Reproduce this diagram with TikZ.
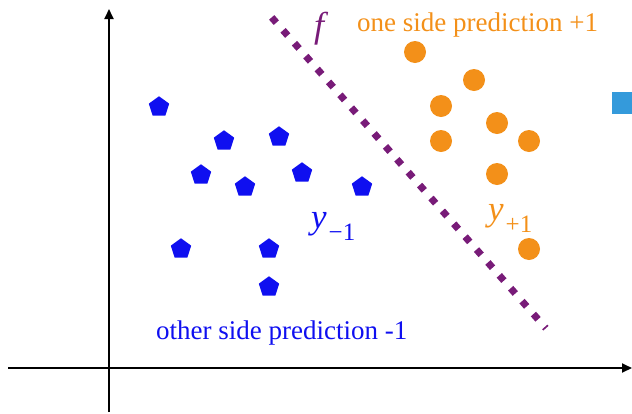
\documentclass[tikz,border=0pt]{standalone}
\usepackage{fontspec}
\setmainfont{Liberation Serif}
\usetikzlibrary{shapes.geometric,arrows.meta}
\definecolor{pblue}{RGB}{15,15,240}
\definecolor{porange}{RGB}{243,144,25}
\definecolor{ppurple}{RGB}{120,27,120}
\definecolor{plight}{RGB}{52,154,219}
\newcommand{\ylab}[1]{{\fontsize{35}{40}\selectfont\itshape y}\hspace{2pt}\raisebox{-12pt}{\fontsize{25}{30}\selectfont #1}}
\tikzset{
  pent/.style={regular polygon, regular polygon sides=5, fill=pblue, draw=none, inner sep=0pt, minimum size=21.5pt},
  dot/.style={circle, fill=porange, draw=none, inner sep=0pt, minimum size=22pt},
  axis/.style={line width=1.8pt, -{Triangle[length=10pt,width=9pt]}},
  lbl/.style={font=\fontsize{27}{32}\selectfont, anchor=base west, inner sep=0pt},
  mlbl/.style={anchor=base west, inner sep=0pt},
}
\begin{document}
\begin{tikzpicture}[x=1pt,y=-1pt]
\useasboundingbox (0,0) rectangle (632,413);
% axes
\coordinate (yb) at (109,412);
\coordinate (yt) at (109,9);
\coordinate (xl) at (8,368);
\coordinate (xr) at (632,368);
\draw[axis] (yb) -- (yt);
\draw[axis] (xl) -- (xr);
% separating line
\coordinate (fs) at (271.7,17.4);
\coordinate (fe) at (545.9,328.2);
\draw[ppurple, line width=7pt, dash pattern=on 7pt off 10.2pt] (fs) -- (fe);
% pentagons
\node[pent] (p1) at (159,107) {};
\node[pent] (p2) at (224,141) {};
\node[pent] (p3) at (279,137) {};
\node[pent] (p4) at (201,175) {};
\node[pent] (p5) at (245,187) {};
\node[pent] (p6) at (302,173) {};
\node[pent] (p7) at (362,187) {};
\node[pent] (p8) at (181,249) {};
\node[pent] (p9) at (269,249) {};
\node[pent] (p10) at (269,287) {};
% circles
\node[dot] (o1) at (415,52) {};
\node[dot] (o2) at (474,80) {};
\node[dot] (o3) at (441,106) {};
\node[dot] (o4) at (497,123) {};
\node[dot] (o5) at (441,141) {};
\node[dot] (o6) at (529,141) {};
\node[dot] (o7) at (497,174) {};
\node[dot] (o8) at (529,249) {};
% square
\node[fill=plight, inner sep=0pt, minimum width=21pt, minimum height=22pt, anchor=north west] (sq) at (612,92) {};
% labels
\node[lbl, text=porange] (top) at (357,31) {one side prediction +1};
\node[lbl, text=pblue] (bot) at (156,339) {other side prediction -1};
\node[mlbl, text=ppurple, font=\fontsize{36}{40}\selectfont\itshape] (f) at (314,37.5) {f};
\node[mlbl, text=pblue] (ym) at (311,228) {\ylab{−1}};
\node[mlbl, text=porange] (yp) at (488,220) {\ylab{+1}};
\end{tikzpicture}
\end{document}
